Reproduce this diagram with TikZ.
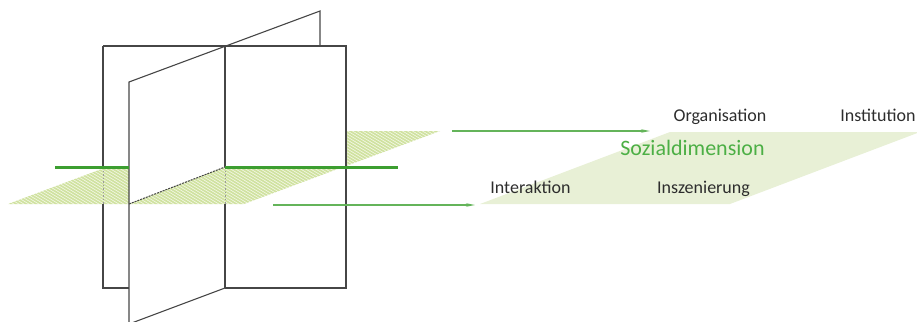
\documentclass[tikz,border=0pt]{standalone}
\usepackage{fontspec}
\setmainfont{Carlito}
\usetikzlibrary{arrows.meta}
\definecolor{hatchgreen}{RGB}{208,226,160}
\definecolor{planegreen}{RGB}{232,240,214}
\definecolor{linegreen}{RGB}{60,158,48}
\definecolor{arrowgreen}{RGB}{100,180,90}
\definecolor{textgreen}{RGB}{76,175,69}
\definecolor{edgegray}{RGB}{70,70,70}
\definecolor{textgray}{RGB}{45,45,45}
\begin{document}
\begin{tikzpicture}[x=1pt,y=-1pt,
 edge/.style={draw=edgegray,line width=1.1pt},
 hiddenedge/.style={draw=edgegray!55,line width=1pt,dash pattern=on 1.5pt off 2pt},
 cutline/.style={draw=edgegray,line width=1pt,dash pattern=on 2pt off 1pt},
 axisline/.style={draw=linegreen,line width=3pt},
 flow/.style={draw=arrowgreen,line width=1.3pt,-{Stealth[length=9pt,width=3.5pt]}},
 lbl/.style={font=\fontsize{18}{20}\selectfont,text=textgray,anchor=base,inner sep=0pt},
 dimlbl/.style={font=\fontsize{22}{24}\selectfont,text=textgreen,anchor=base,inner sep=0pt},
 hatchstroke/.style={draw=hatchgreen,line width=1.7pt}]
\useasboundingbox (0,0) rectangle (917,321);
% hatched horizontal plane (visible parts)
\begin{scope}
\clip (8,204)--(129,204)--(129,167)--(107,167)--cycle
      (129,204)--(244,204)--(343,167)--(225,167)--cycle
      (346,166)--(346,131)--(440,131)--cycle;
\fill[hatchgreen!20] (0,120) rectangle (450,210);
\foreach \s in {-160,-155,...,450} \draw[hatchstroke] (\s,125)--++(133,80);
\end{scope}
% right plane
\fill[planegreen] (480,204)--(730,204)--(920,132)--(670,132)--cycle;
% front vertical plane
\draw[edge] (103,46)--(346,46)--(346,288)--(225,288);
\draw[edge] (129,288)--(103,288)--(103,204);
\draw[edge] (103,167)--(103,46);
\draw[hiddenedge] (103,167)--(103,204);
% slanted plane
\draw[edge] (129,330)--(129,82)--(320,11)--(320,46);
\draw[edge] (225,288)--(129,324);
\draw[edge] (225,46)--(225,167);
\draw[edge] (225,204)--(225,288);
\draw[hiddenedge] (225,167)--(225,204);
% green intersection line
\draw[axisline] (55,167)--(129,167);
\draw[axisline] (225,167)--(398,167);
% intersection of slanted plane with horizontal plane
\draw[cutline] (129,204)--(225,167);
% arrows
\coordinate (a1s) at (452,131);
\coordinate (a1e) at (650,131);
\coordinate (a2s) at (273,205);
\coordinate (a2e) at (475,205);
\draw[flow] (a1s)--(a1e);
\draw[flow] (a2s)--(a2e);
% labels
\node[lbl] (org) at (720,121.5) {Organisation};
\node[lbl] (inst) at (878,121) {Institution};
\node[dimlbl] (soz) at (692.5,155.5) {Sozialdimension};
\node[lbl] (inter) at (530.5,193) {Interaktion};
\node[lbl] (insz) at (703.5,193) {Inszenierung};
\end{tikzpicture}
\end{document}
